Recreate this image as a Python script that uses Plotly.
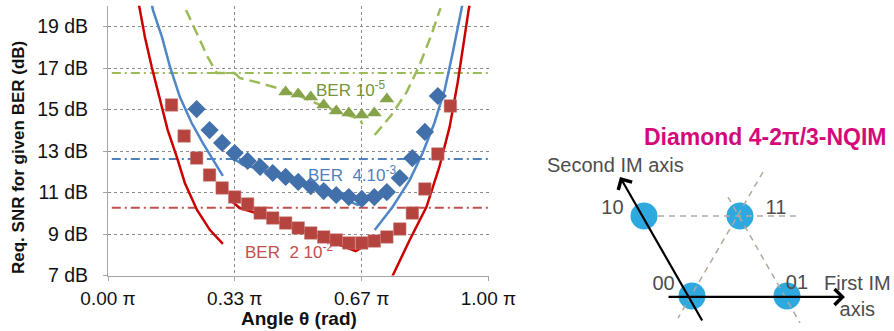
import plotly.graph_objects as go

# ---------------- data: required SNR vs. angle (angle in units of pi) ----------------
# measured points
angle_sq = [0.167, 0.200, 0.233, 0.267, 0.300, 0.333, 0.367, 0.400, 0.433, 0.467, 0.500, 0.533,
            0.567, 0.600, 0.633, 0.667, 0.700, 0.733, 0.767, 0.800, 0.833, 0.867, 0.900]
snr_sq = [15.22, 13.72, 12.66, 11.84, 11.22, 10.78, 10.45, 10.01, 9.77, 9.53, 9.29, 9.05,
          8.86, 8.71, 8.57, 8.57, 8.66, 8.86, 9.24, 10.01, 11.17, 12.86, 15.17]

angle_dia = [0.233, 0.267, 0.300, 0.333, 0.367, 0.400, 0.433, 0.467, 0.500, 0.533,
             0.567, 0.600, 0.633, 0.667, 0.700, 0.733, 0.767, 0.800, 0.833, 0.867]
snr_dia = [15.02, 14.01, 13.39, 12.90, 12.52, 12.23, 11.94, 11.75, 11.51, 11.31,
           11.07, 10.88, 10.78, 10.69, 10.78, 11.02, 11.70, 12.66, 13.92, 15.65]

angle_tri = [0.467, 0.500, 0.533, 0.567, 0.600, 0.633, 0.667, 0.700, 0.733]
snr_tri = [15.84, 15.75, 15.60, 15.22, 14.93, 14.83, 14.73, 14.83, 15.51]

# theoretical curves (three branches each)
red_left_x = [0.079, 0.084, 0.097, 0.115, 0.136, 0.157, 0.181, 0.202, 0.234, 0.268, 0.302]
red_left_y = [20.28, 19.80, 18.49, 17.05, 15.46, 14.01, 12.71, 11.46, 10.16, 9.19, 8.52]
red_mid_x = [0.328, 0.346, 0.381, 0.425, 0.478, 0.530, 0.583, 0.622, 0.651, 0.669]
red_mid_y = [10.54, 10.25, 10.06, 9.72, 9.39, 9.05, 8.66, 8.37, 8.18, 8.37]
red_right_x = [0.743, 0.748, 0.793, 0.837, 0.871, 0.898, 0.919, 0.934, 0.948, 0.953]
red_right_y = [6.69, 6.98, 8.71, 10.30, 12.23, 14.16, 16.28, 18.20, 19.80, 20.28]

blue_left_x = [0.113, 0.118, 0.142, 0.163, 0.189, 0.220, 0.249, 0.281, 0.302]
blue_left_y = [20.28, 19.80, 18.49, 17.05, 15.60, 14.35, 13.39, 12.42, 11.80]
blue_mid_x = [0.333, 0.354, 0.391, 0.451, 0.504, 0.583, 0.635, 0.656, 0.669, 0.685]
blue_mid_y = [12.61, 12.33, 12.18, 11.84, 11.51, 10.98, 10.59, 10.40, 10.54, 10.88]
blue_right_x = [0.701, 0.748, 0.793, 0.827, 0.858, 0.885, 0.906, 0.929, 0.934]
blue_right_y = [9.19, 10.30, 11.60, 12.90, 14.35, 15.94, 17.72, 19.80, 20.28]

green_left_x = [0.205, 0.262, 0.286, 0.333]
green_left_y = [19.80, 17.53, 16.76, 16.76]
green_mid_x = [0.333, 0.346, 0.399, 0.444, 0.504, 0.564, 0.622, 0.661, 0.669]
green_mid_y = [16.76, 16.52, 16.28, 16.04, 15.65, 15.17, 14.78, 14.54, 14.30]
green_right_x = [0.701, 0.745, 0.785, 0.819, 0.850, 0.874]
green_right_y = [13.77, 14.73, 15.84, 17.14, 18.59, 19.89]

# BER thresholds (horizontal references)
thr_green = 16.76
thr_blue = 12.61
thr_red = 10.27

tick_angles = [0.0, 0.3333, 0.6667, 1.0]
tick_angle_labels = ["0.00 π", "0.33 π", "0.67 π", "1.00 π"]
snr_ticks = [7, 9, 11, 13, 15, 17, 19]
snr_tick_labels = ["7 dB", "9 dB", "11 dB", "13 dB", "15 dB", "17 dB", "19 dB"]

# ---------------- constellation diagram (first IM axis units) ----------------
const_labels = ["00", "01", "10", "11"]
const_u = [0.0, 1.0, -0.505, 0.505]
const_v = [0.0, 0.0, 0.842, 0.842]
label_u = [-0.30, 1.105, -0.837, 0.884]
label_v = [0.121, 0.126, 0.921, 0.921]

grid_h_u = [-0.358, 1.137]
grid_h_v = [0.842, 0.842]
grid_d1_u = [0.747, -0.147]
grid_d1_v = [1.305, -0.232]
grid_d2_u = [0.379, 1.137]
grid_d2_v = [1.042, -0.284]

axis1_tail = (-0.263, -0.01)
axis1_head = (1.61, -0.01)
axis2_tail = (0.116, -0.274)
axis2_head = (-0.758, 1.253)

RED_LINE = "#CC0000"
RED_MK = "#B5443F"
BLUE_LINE = "#4F86C6"
BLUE_MK = "#4270AA"
GREEN_LINE = "#9BBB59"
GREEN_MK = "#86A34A"


def join(*branches):
    xs, ys = [], []
    for bx, by in branches:
        if xs:
            xs.append(None)
            ys.append(None)
        xs.extend(bx)
        ys.extend(by)
    return xs, ys


fig = go.Figure()

# horizontal threshold lines
for thr, col in [(thr_green, GREEN_LINE), (thr_blue, "#4F81BD"), (thr_red, "#C0504D")]:
    fig.add_trace(go.Scatter(x=[0.01, 1.0], y=[thr, thr], mode="lines",
                             line=dict(color=col, width=2, dash="9px,4px,2px,4px"),
                             hoverinfo="skip"))

# theoretical curves
rx, ry = join((red_left_x, red_left_y), (red_mid_x, red_mid_y), (red_right_x, red_right_y))
bx, by = join((blue_left_x, blue_left_y), (blue_mid_x, blue_mid_y), (blue_right_x, blue_right_y))
gx, gy = join((green_left_x, green_left_y), (green_mid_x, green_mid_y), (green_right_x, green_right_y))
fig.add_trace(go.Scatter(x=gx, y=gy, mode="lines",
                         line=dict(color=GREEN_LINE, width=2.5, dash="11px,6px")))
fig.add_trace(go.Scatter(x=bx, y=by, mode="lines", line=dict(color=BLUE_LINE, width=2.5)))
fig.add_trace(go.Scatter(x=rx, y=ry, mode="lines", line=dict(color=RED_LINE, width=2.5)))

# measured markers
fig.add_trace(go.Scatter(x=angle_sq, y=snr_sq, mode="markers",
                         marker=dict(symbol="square", size=12.5, color=RED_MK,
                                     line=dict(color="#C97A76", width=0.5))))
fig.add_trace(go.Scatter(x=angle_dia, y=snr_dia, mode="markers",
                         marker=dict(symbol="diamond", size=14, color=BLUE_MK,
                                     line=dict(width=0))))
fig.add_trace(go.Scatter(x=angle_tri, y=snr_tri, mode="markers",
                         marker=dict(symbol="triangle-up", size=13, color=GREEN_MK,
                                     line=dict(width=0))))

# constellation: points, guide lines
fig.add_trace(go.Scatter(x=const_u, y=const_v, mode="markers", xaxis="x2", yaxis="y2",
                         marker=dict(size=27, color="#2EA9DF", line=dict(width=0))))
gdx, gdy = join((grid_h_u, grid_h_v), (grid_d1_u, grid_d1_v), (grid_d2_u, grid_d2_v))
fig.add_trace(go.Scatter(x=gdx, y=gdy, mode="lines", xaxis="x2", yaxis="y2",
                         line=dict(color="#B3A89E", width=1.5, dash="6px,5px")))
fig.add_trace(go.Scatter(x=label_u, y=label_v, mode="text", text=const_labels,
                         xaxis="x2", yaxis="y2",
                         textfont=dict(family="Liberation Sans, Arial", size=20, color="#4D4D4D")))

annotations = [
    dict(text="BER 10<sup>-5</sup>", x=0.541, y=15.99, xref="x", yref="y", xanchor="left",
         yanchor="middle", showarrow=False, font=dict(size=17, color="#77933C")),
    dict(text="BER\u00a0 4.10<sup>-3</sup>", x=0.520, y=11.89, xref="x", yref="y", xanchor="left",
         yanchor="middle", showarrow=False, font=dict(size=17, color="#4F81BD")),
    dict(text="BER\u00a0 2 10<sup>-2</sup>", x=0.354, y=8.18, xref="x", yref="y", xanchor="left",
         yanchor="middle", showarrow=False, font=dict(size=17, color="#C0504D")),
    dict(text="<b>Req. SNR for given BER (dB)</b>", x=18.5 / 894, y=(331 - 157.5) / 331,
         xref="paper", yref="paper", xanchor="center", yanchor="middle", textangle=-90,
         showarrow=False, font=dict(size=17, color="#111111")),
    dict(text="<b>Angle θ (rad)</b>", x=299 / 894, y=(331 - 318) / 331,
         xref="paper", yref="paper", xanchor="center", yanchor="middle", showarrow=False,
         font=dict(size=19, color="#111111")),
    dict(text="<b>Diamond 4-2π/3-NQIM</b>", x=889 / 894, y=(331 - 137) / 331,
         xref="paper", yref="paper", xanchor="right", yanchor="middle", showarrow=False,
         font=dict(size=23, color="#D4097A")),
    dict(text="Second IM axis", x=-0.81, y=1.374, xref="x2", yref="y2", showarrow=False,
         xanchor="center", yanchor="middle", font=dict(size=20, color="#4D4D4D")),
    dict(text="First IM<br>axis", x=1.747, y=0.0, xref="x2", yref="y2", showarrow=False,
         xanchor="center", yanchor="middle", align="center",
         font=dict(size=20, color="#4D4D4D")),
    dict(text="", x=axis1_head[0], y=axis1_head[1], ax=axis1_tail[0], ay=axis1_tail[1],
         xref="x2", yref="y2", axref="x2", ayref="y2", showarrow=True,
         arrowhead=4, arrowsize=1.4, arrowwidth=2.2, arrowcolor="#000000"),
    dict(text="", x=axis2_head[0], y=axis2_head[1], ax=axis2_tail[0], ay=axis2_tail[1],
         xref="x2", yref="y2", axref="x2", ayref="y2", showarrow=True,
         arrowhead=4, arrowsize=1.4, arrowwidth=2.2, arrowcolor="#000000"),
]

fig.update_layout(
    width=894, height=331, margin=dict(l=0, r=0, t=0, b=0, autoexpand=False), autosize=False,
    paper_bgcolor="white", plot_bgcolor="white", showlegend=False,
    font=dict(family="Liberation Sans, Arial, sans-serif", color="#111111"),
    xaxis=dict(domain=[108 / 894, 489 / 894], range=[0, 1.0015], tickvals=tick_angles,
               ticktext=tick_angle_labels, showgrid=True, gridcolor="#8C8C8C",
               griddash="dot", gridwidth=1, showline=True, linecolor="#A6A6A6", linewidth=1,
               ticks="outside", ticklen=4, tickcolor="#A6A6A6", zeroline=False,
               automargin=False,
               tickfont=dict(size=19, color="#111111"), ticklabelstandoff=2),
    yaxis=dict(domain=[(331 - 275.5) / 331, (331 - 5.75) / 331], range=[7, 20],
               tickvals=snr_ticks, ticktext=snr_tick_labels, showgrid=True,
               gridcolor="#8C8C8C", griddash="dot", gridwidth=1, showline=True,
               linecolor="#A6A6A6", linewidth=1, ticks="outside", ticklen=4,
               tickcolor="#A6A6A6", zeroline=False, automargin=False,
               tickfont=dict(size=19.5, color="#111111"), ticklabelstandoff=11),
    xaxis2=dict(domain=[500 / 894, 1.0], range=[(500 - 692) / 95, (894 - 692) / 95],
                visible=False, anchor="y2", automargin=False),
    yaxis2=dict(domain=[0.0, 1.0], range=[(296 - 331) / 95, 296 / 95],
                visible=False, anchor="x2", automargin=False),
    annotations=annotations,
)

fig.write_html("out.html")
